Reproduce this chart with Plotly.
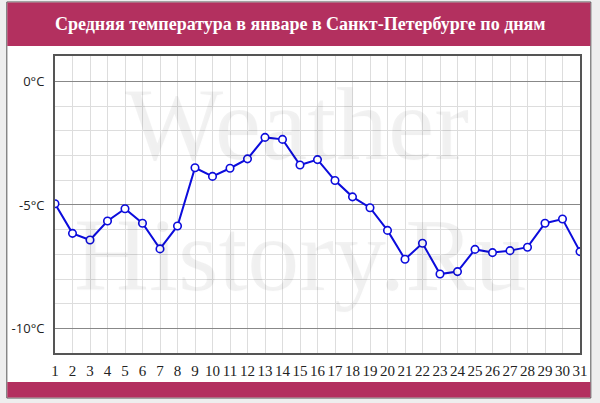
import plotly.graph_objects as go

days = list(range(1, 32))
temps = [-4.95, -6.15, -6.42, -5.65, -5.15, -5.74, -6.78, -5.85, -3.49, -3.84,
         -3.51, -3.13, -2.26, -2.34, -3.38, -3.16, -4.01, -4.67, -5.11, -6.03,
         -7.20, -6.55, -7.80, -7.70, -6.80, -6.93, -6.85, -6.71, -5.74, -5.57, -6.89]
y_tickvals = [0, -5, -10]
y_ticktext = ["0°C", "-5°C", "-10°C"]
title_text = "Средняя температура в январе в Санкт-Петербурге по дням"
watermark_1 = "Weather"
watermark_2 = "History.Ru"

W, H = 600, 403
ML, MR, MT, MB = 52, 14, 56, 50
PW, PH = W - ML - MR, H - MT - MB


def px(x):
    return (x - ML) / PW


def py(y):
    return (H - MB - y) / PH


ACCENT = "#b3305f"
LINE = "#0c0cdc"

fig = go.Figure()
fig.add_trace(go.Scatter(
    x=days, y=temps, mode="lines+markers",
    line=dict(color=LINE, width=2),
    marker=dict(symbol="circle", size=7.5, color="white",
                line=dict(color=LINE, width=1.6)),
    hoverinfo="x+y", showlegend=False,
))

shapes = [
    dict(type="rect", xref="paper", yref="paper", layer="below",
         x0=px(3), x1=px(597), y0=py(398), y1=py(2),
         fillcolor="white", line=dict(color="#555555", width=1)),
    dict(type="rect", xref="paper", yref="paper", layer="below",
         x0=px(3.5), x1=px(596.5), y0=py(46), y1=py(2.5),
         fillcolor=ACCENT, line=dict(width=0)),
    dict(type="rect", xref="paper", yref="paper", layer="below",
         x0=px(3.5), x1=px(596.5), y0=py(397.5), y1=py(382),
         fillcolor=ACCENT, line=dict(width=0)),
]

wm_font = dict(family="Liberation Serif", size=104, color="rgba(0,0,0,0.05)",
               shadow="1px 1px 1px rgba(0,0,0,0.18)")

annotations = [
    dict(text=title_text, xref="paper", yref="paper", x=px(302), y=py(24),
         xanchor="center", yanchor="middle", showarrow=False,
         font=dict(family="Liberation Serif", size=18, color="white", weight="bold")),
    dict(text=watermark_1, xref="paper", yref="paper", x=px(298), y=py(124),
         xanchor="center", yanchor="middle", showarrow=False, font=wm_font),
    dict(text=watermark_2, xref="paper", yref="paper", x=px(302), y=py(255),
         xanchor="center", yanchor="middle", showarrow=False, font=wm_font),
]

fig.update_layout(
    width=W, height=H,
    margin=dict(l=ML, r=MR, t=MT, b=MB, pad=0),
    paper_bgcolor="#eeeeee",
    plot_bgcolor="rgba(0,0,0,0)",
    shapes=shapes,
    annotations=annotations,
    showlegend=False,
    xaxis=dict(
        range=[1, 31], tickmode="array", tickvals=days,
        ticktext=[str(d) for d in days], tickangle=0,
        showgrid=True, gridcolor="#dddddd", gridwidth=1,
        zeroline=False, ticks="", showline=True, linecolor="#555555",
        linewidth=2, mirror=True, ticklabelstandoff=3,
        tickfont=dict(family="Liberation Serif", size=15, color="#222222"),
        fixedrange=True,
    ),
    yaxis=dict(
        range=[-11, 1.04], tickmode="array", tickvals=y_tickvals,
        ticktext=y_ticktext,
        showgrid=True, gridcolor="#888888", gridwidth=1,
        minor=dict(dtick=1, tick0=0, showgrid=True, gridcolor="#dddddd", gridwidth=1),
        zeroline=False, ticks="", showline=True, linecolor="#555555",
        linewidth=2, mirror=True, ticklabelstandoff=6,
        tickfont=dict(family="Open Sans", size=13, color="#222222"),
        fixedrange=True,
    ),
)

fig.write_html(
    "out.html",
    config={"displayModeBar": False},
    post_script="document.body.style.margin='0';document.body.style.overflow='hidden';",
)
